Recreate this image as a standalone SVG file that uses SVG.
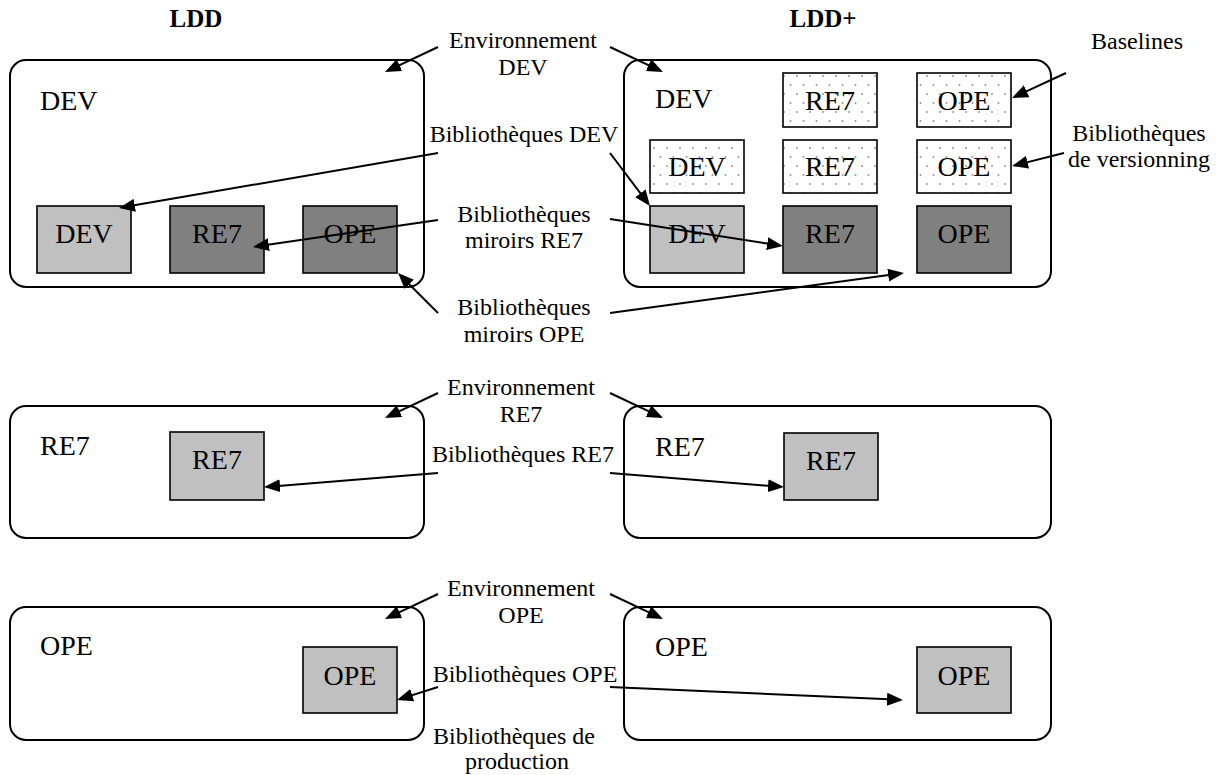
<svg xmlns="http://www.w3.org/2000/svg" width="1227" height="775" viewBox="0 0 1227 775">
  <style>
    text { font-family: "Liberation Serif", "Times New Roman", serif; fill: #000; }
    .hd { font-size: 25px; font-weight: bold; text-anchor: middle; }
    .env { fill: #fff; stroke: #000; stroke-width: 2; }
    .lbl { font-size: 28px; }
    .box { stroke: #000; stroke-width: 1.6; }
    .bt { font-size: 28px; text-anchor: middle; }
    .lt { fill: #c0c0c0; }
    .dk { fill: #808080; }
    .dot { fill: url(#dots); }
    .ann { font-size: 24px; text-anchor: middle; }
    .con path { fill: none; stroke: #000; stroke-width: 2; marker-end: url(#ah); }
  </style>
  <defs>
    <pattern id="dots" patternUnits="userSpaceOnUse" width="13" height="18" x="2" y="2">
      <rect width="13" height="18" fill="#fff"/>
      <circle cx="2" cy="2" r="1" fill="#999"/>
      <circle cx="8.5" cy="11" r="1" fill="#999"/>
    </pattern>
    <marker id="ah" markerUnits="userSpaceOnUse" markerWidth="16" markerHeight="13" refX="8" refY="6.5" orient="auto">
      <path d="M0,0 L16,6.5 L0,13 z" fill="#000"/>
    </marker>
  </defs>

  <rect width="1227" height="775" fill="#fff"/>

  <g id="headers">
    <text class="hd" x="196" y="27">LDD</text>
    <text class="hd" x="823" y="27">LDD+</text>
  </g>

  <!-- Row 1: DEV environments -->
  <g id="ldd-dev-env">
    <rect class="env" x="10" y="60" width="414" height="227" rx="16"/>
    <text class="lbl" x="40" y="110">DEV</text>
  </g>
  <g id="ldd-dev-lib-dev">
    <rect class="box lt" x="37" y="206" width="94" height="67"/>
    <text class="bt" x="84" y="243">DEV</text>
  </g>
  <g id="ldd-dev-lib-re7">
    <rect class="box dk" x="170" y="206" width="94" height="67"/>
    <text class="bt" x="217" y="243">RE7</text>
  </g>
  <g id="ldd-dev-lib-ope">
    <rect class="box dk" x="303" y="206" width="94" height="67"/>
    <text class="bt" x="350" y="243">OPE</text>
  </g>

  <g id="lddp-dev-env">
    <rect class="env" x="624" y="60" width="427" height="227" rx="16"/>
    <text class="lbl" x="655" y="108">DEV</text>
  </g>
  <g id="lddp-base-re7">
    <rect class="box dot" x="783" y="73" width="94" height="54"/>
    <text class="bt" x="830" y="109.5">RE7</text>
  </g>
  <g id="lddp-base-ope">
    <rect class="box dot" x="917" y="73" width="94" height="54"/>
    <text class="bt" x="964" y="109.5">OPE</text>
  </g>
  <g id="lddp-ver-dev">
    <rect class="box dot" x="650" y="140" width="94" height="53"/>
    <text class="bt" x="697" y="176">DEV</text>
  </g>
  <g id="lddp-ver-re7">
    <rect class="box dot" x="783" y="140" width="94" height="53"/>
    <text class="bt" x="830" y="176">RE7</text>
  </g>
  <g id="lddp-ver-ope">
    <rect class="box dot" x="917" y="140" width="94" height="53"/>
    <text class="bt" x="964" y="176">OPE</text>
  </g>
  <g id="lddp-dev-lib-dev">
    <rect class="box lt" x="650" y="206" width="94" height="67"/>
    <text class="bt" x="697" y="243">DEV</text>
  </g>
  <g id="lddp-dev-lib-re7">
    <rect class="box dk" x="783" y="206" width="94" height="67"/>
    <text class="bt" x="830" y="243">RE7</text>
  </g>
  <g id="lddp-dev-lib-ope">
    <rect class="box dk" x="917" y="206" width="94" height="67"/>
    <text class="bt" x="964" y="243">OPE</text>
  </g>

  <!-- Row 2: RE7 environments -->
  <g id="ldd-re7-env">
    <rect class="env" x="10" y="406" width="414" height="132" rx="16"/>
    <text class="lbl" x="40" y="455">RE7</text>
  </g>
  <g id="ldd-re7-lib">
    <rect class="box lt" x="170" y="432" width="94" height="68"/>
    <text class="bt" x="217" y="469">RE7</text>
  </g>
  <g id="lddp-re7-env">
    <rect class="env" x="624" y="406" width="427" height="132" rx="16"/>
    <text class="lbl" x="655" y="456">RE7</text>
  </g>
  <g id="lddp-re7-lib">
    <rect class="box lt" x="784" y="433" width="94" height="67"/>
    <text class="bt" x="831" y="470">RE7</text>
  </g>

  <!-- Row 3: OPE environments -->
  <g id="ldd-ope-env">
    <rect class="env" x="10" y="607" width="414" height="133" rx="16"/>
    <text class="lbl" x="40" y="655">OPE</text>
  </g>
  <g id="ldd-ope-lib">
    <rect class="box lt" x="303" y="647" width="94" height="66"/>
    <text class="bt" x="350" y="685">OPE</text>
  </g>
  <g id="lddp-ope-env">
    <rect class="env" x="624" y="607" width="427" height="133" rx="16"/>
    <text class="lbl" x="655" y="656">OPE</text>
  </g>
  <g id="lddp-ope-lib">
    <rect class="box lt" x="917" y="647" width="94" height="66"/>
    <text class="bt" x="964" y="685">OPE</text>
  </g>

  <!-- Annotation labels -->
  <g id="lbl-env-dev"><text class="ann" x="523" y="48">Environnement</text><text class="ann" x="523" y="75">DEV</text></g>
  <g id="lbl-bib-dev"><text class="ann" x="524" y="142">Bibliothèques DEV</text></g>
  <g id="lbl-mir-re7"><text class="ann" x="524" y="222">Bibliothèques</text><text class="ann" x="524" y="248">miroirs RE7</text></g>
  <g id="lbl-mir-ope"><text class="ann" x="524" y="315">Bibliothèques</text><text class="ann" x="524" y="342">miroirs OPE</text></g>
  <g id="lbl-env-re7"><text class="ann" x="521" y="395">Environnement</text><text class="ann" x="521" y="422">RE7</text></g>
  <g id="lbl-bib-re7"><text class="ann" x="523" y="462">Bibliothèques RE7</text></g>
  <g id="lbl-env-ope"><text class="ann" x="521" y="596">Environnement</text><text class="ann" x="521" y="623">OPE</text></g>
  <g id="lbl-bib-ope"><text class="ann" x="525" y="682">Bibliothèques OPE</text></g>
  <g id="lbl-bib-prod"><text class="ann" x="514" y="744">Bibliothèques de</text><text class="ann" x="517" y="769">production</text></g>
  <g id="lbl-baselines"><text class="ann" x="1137" y="49">Baselines</text></g>
  <g id="lbl-versioning"><text class="ann" x="1139" y="141">Bibliothèques</text><text class="ann" x="1139" y="167">de versionning</text></g>

  <!-- Connectors -->
  <g id="connectors" class="con">
    <path d="M438,47 L392.2,68.6"/>
    <path d="M610,47 L655.8,68.6"/>
    <path d="M438,153 L126.9,206.6"/>
    <path d="M610,153 L645.2,199.6"/>
    <path d="M438,220 L260.9,245.8"/>
    <path d="M610,219 L775.1,244.8"/>
    <path d="M438,313 L403.7,278.7"/>
    <path d="M610,313 L896.1,274.1"/>
    <path d="M438,393 L392.2,414.6"/>
    <path d="M610,393 L655.8,414.6"/>
    <path d="M438,473 L272,486.4"/>
    <path d="M610,473 L776,486.4"/>
    <path d="M438,594 L392.2,615.6"/>
    <path d="M610,594 L655.8,615.6"/>
    <path d="M438,687 L404.6,697.6"/>
    <path d="M610,687 L895,699.6"/>
    <path d="M1066,73 L1019.3,94.6"/>
    <path d="M1064,153 L1019.8,164.1"/>
  </g>
</svg>
